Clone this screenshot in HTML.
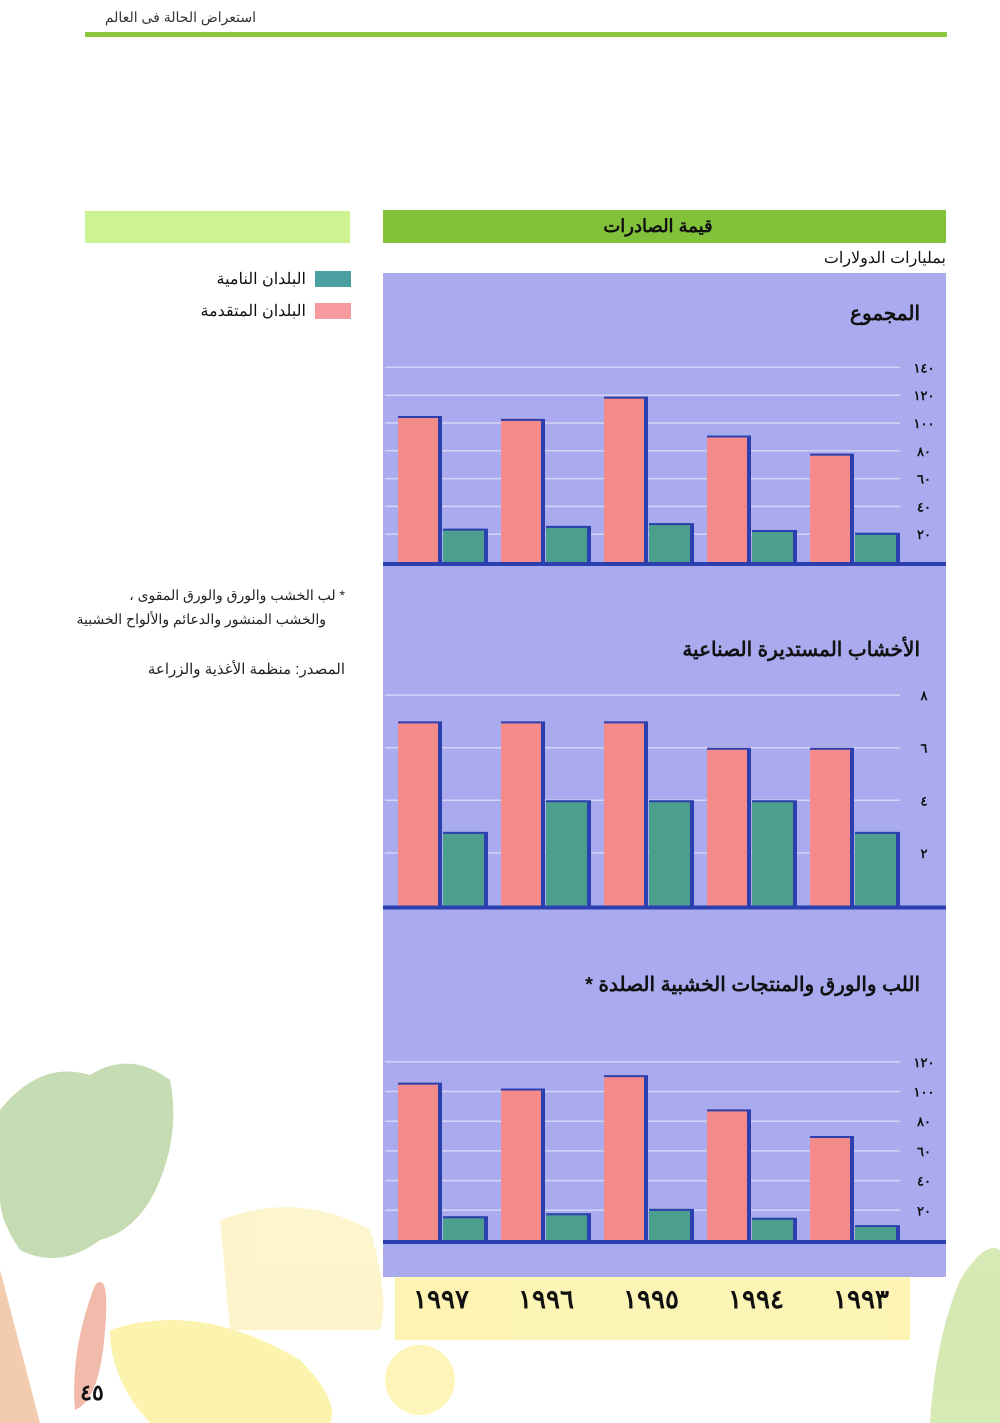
<!DOCTYPE html>
<html lang="ar"><head><meta charset="utf-8">
<style>
body{margin:0;background:#fff;}
svg{display:block;font-family:"Liberation Sans","Noto Sans CJK SC",sans-serif;}
</style></head>
<body>
<svg id="page" width="1000" height="1423" viewBox="0 0 1000 1423" xmlns="http://www.w3.org/2000/svg" direction="rtl">
  <g opacity="0.85">
    <path d="M0 1110 Q40 1060 90 1075 Q130 1050 170 1080 Q180 1130 160 1180 Q140 1230 100 1240 Q60 1270 20 1250 Q0 1220 0 1200Z" fill="#bcd7a6"/>
    <path d="M0 1270 L0 1423 L40 1423 Z" fill="#f2c2a0"/>
    <path d="M95 1285 Q110 1270 105 1330 Q100 1400 75 1410 Q70 1350 95 1285Z" fill="#efae9c"/>
    <path d="M110 1330 Q200 1300 300 1360 Q340 1400 330 1423 L150 1423 Q110 1380 110 1330Z" fill="#fbf2a0"/>
    <path d="M220 1220 Q300 1190 370 1230 Q390 1300 380 1330 L230 1330 Z" fill="#fdf3c4"/>
    <circle cx="420" cy="1380" r="35" fill="#fff4b0"/>
    <rect x="395" y="1277" width="515" height="63" fill="#fdf3a8"/>
    <path d="M960 1280 Q985 1240 1000 1250 L1000 1423 L930 1423 Q935 1340 960 1280Z" fill="#cfe6a8"/>
  </g>
  <text x="256" y="22" font-size="14" fill="#333" text-anchor="start">استعراض الحالة فى العالم</text>
  <rect x="85" y="32" width="862" height="5" fill="#8cc63f"/>
  <rect x="85" y="211" width="265" height="32" fill="#cdf292"/>
  <rect x="383" y="210" width="563" height="33" fill="#82c13a"/>
  <text x="658" y="232" font-size="18" font-weight="bold" fill="#111" text-anchor="middle">قيمة الصادرات</text>
  <text x="946" y="263" font-size="16" fill="#111" text-anchor="start">بمليارات الدولارات</text>
  <rect x="315" y="271" width="36" height="16" fill="#4aa0a0"/>
  <text x="306" y="284" font-size="16" fill="#111" text-anchor="start">البلدان النامية</text>
  <rect x="315" y="303" width="36" height="16" fill="#f69aa0"/>
  <text x="306" y="316" font-size="16" fill="#111" text-anchor="start">البلدان المتقدمة</text>
  <text x="345" y="600" font-size="14" fill="#222" text-anchor="start" direction="rtl">* لب الخشب والورق والورق المقوى ،</text>
  <text x="326" y="624" font-size="14" fill="#222" text-anchor="start">والخشب المنشور والدعائم والألواح الخشبية</text>
  <text x="345" y="674" font-size="15" fill="#222" text-anchor="start">المصدر: منظمة الأغذية والزراعة</text>
  <rect x="383" y="273" width="563" height="1004" fill="#aaabef"/>
  <g id="charts"></g>
  <text x="92" y="1400" font-size="22" font-weight="bold" fill="#111" text-anchor="middle">٤٥</text>
</svg>
<script>
const years = ["١٩٩٧","١٩٩٦","١٩٩٥","١٩٩٤","١٩٩٣"];
const totalDeveloped = [105,103,119,91,78];
const totalDeveloping = [24,26,28,23,21];
const totalTicks = [20,40,60,80,100,120,140];
const totalTickLabels = ["٢٠","٤٠","٦٠","٨٠","١٠٠","١٢٠","١٤٠"];
const roundDeveloped = [7,7,7,6,6];
const roundDeveloping = [2.8,4,4,4,2.8];
const roundTicks = [2,4,6,8];
const roundTickLabels = ["٢","٤","٦","٨"];
const pulpDeveloped = [106,102,111,88,70];
const pulpDeveloping = [16,18,21,15,10];
const pulpTicks = [20,40,60,80,100,120];
const pulpTickLabels = ["٢٠","٤٠","٦٠","٨٠","١٠٠","١٢٠"];

const NS="http://www.w3.org/2000/svg";
const root=document.getElementById('charts');
function mk(tag,attrs,parent){const e=document.createElementNS(NS,tag);for(const k in attrs)e.setAttribute(k,attrs[k]);(parent||root).appendChild(e);return e;}

function drawChart(name,title,titleY,base,pxPerUnit,ticks,tickLabels,dev,devg){
  const g=mk('g',{});
  
  
  const y=v=>base-v*pxPerUnit;
  const t=mk('text',{x:920,y:titleY,'font-size':20,'font-weight':'bold',fill:'#111','text-anchor':'start'},g);
  t.textContent=title;
  
  
  ticks.forEach((v,i)=>{
    const l=mk('line',{x1:385,x2:900,y1:y(v),y2:y(v),stroke:'#d4d4f6','stroke-width':1.5},g);
    
    
    const tx=mk('text',{x:924,y:y(v)+5,'font-size':13,'font-weight':'bold',fill:'#111','text-anchor':'middle'},g);
    tx.textContent=tickLabels[i];
    
    
  });
  const bar=(x,w,v,fill,nm)=>{
    const top=y(v);
    const b=mk('rect',{x:x,y:top,width:w,height:base-top,fill:fill},g);
    
    
    const s=mk('path',{d:`M${x} ${top} H${x+w+4} V${base} H${x+w} V${top+2} H${x} Z`,fill:'#2b3fae'},g);
    
    
  };
  years.forEach((yr,i)=>{
    const gx=398+i*103;
    bar(gx,40,dev[i],'#f58a8a','bar-developed-'+i);
    bar(gx+45,41,devg[i],'#4c9f8c','bar-developing-'+i);
  });
  const ax=mk('rect',{x:383,y:base,width:563,height:4,fill:'#2b3fae'},g);
  
  
}
drawChart('chart-total','المجموع',320,562,27.8/20,totalTicks,totalTickLabels,totalDeveloped,totalDeveloping);
drawChart('chart-roundwood','الأخشاب المستديرة الصناعية',656,905.5,26.3,roundTicks,roundTickLabels,roundDeveloped,roundDeveloping);
drawChart('chart-pulp-paper','اللب والورق والمنتجات الخشبية الصلدة *',991,1240,29.7/20,pulpTicks,pulpTickLabels,pulpDeveloped,pulpDeveloping);
years.forEach((yr,i)=>{
  const t=mk('text',{x:441+i*105,y:1308,'font-size':26,'font-weight':'bold',fill:'#111','text-anchor':'middle'});
  t.textContent=yr;
  
  
});
</script>
</body></html>
